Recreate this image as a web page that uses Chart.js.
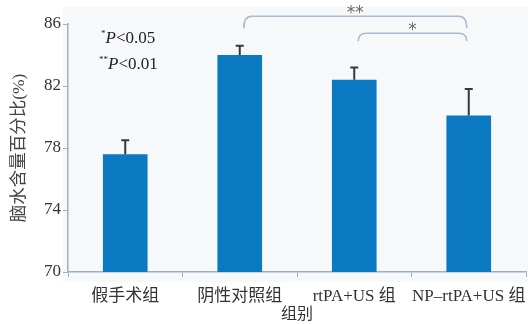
<!DOCTYPE html>
<html>
<head>
<meta charset="utf-8">
<script src="https://cdn.jsdelivr.net/npm/chart.js@4/dist/chart.umd.min.js"></script>
<style>
  html, body { margin: 0; padding: 0; background: #ffffff; }
  #wrap { width: 528px; height: 324px; position: relative; }
</style>
</head>
<body>
<div id="wrap"><canvas id="c" width="528" height="324"></canvas></div>
<script>
// Groups and brain water content (%), mean with upper SD
const groups = ['假手术组', '阴性对照组', 'rtPA+US 组', 'NP–rtPA+US 组'];
const waterContent = [77.6, 84.0, 82.4, 80.1];
const sdValues = [0.9, 0.6, 0.8, 1.7];
const yTicks = [70, 74, 78, 82, 86];

// significance brackets: [from group index, to group index, level value, label]
const brackets = [
  [1, 3, 86.5, '**'],
  [2, 3, 85.4, '*']
];

const SERIF = '"Liberation Serif", "Noto Sans CJK SC", serif';
const AXIS_COLOR = '#9fb0c2';

const panelPlugin = {
  id: 'panel',
  beforeDraw(chart) {
    const ctx = chart.ctx;
    ctx.save();
    ctx.fillStyle = '#f7f8fa';
    ctx.fillRect(63, 7, chart.width - 63, 275);
    ctx.restore();
  }
};

const errorBarPlugin = {
  id: 'errorBars',
  afterDatasetsDraw(chart) {
    const ctx = chart.ctx;
    const meta = chart.getDatasetMeta(0);
    const ys = chart.scales.y;
    ctx.save();
    ctx.strokeStyle = '#2f3a44';
    ctx.lineWidth = 2;
    meta.data.forEach((bar, i) => {
      const top = ys.getPixelForValue(waterContent[i] + sdValues[i]);
      ctx.beginPath();
      ctx.moveTo(bar.x, bar.y);
      ctx.lineTo(bar.x, top);
      ctx.moveTo(bar.x - 4, top);
      ctx.lineTo(bar.x + 4, top);
      ctx.stroke();
    });
    ctx.restore();
  }
};

const bracketPlugin = {
  id: 'brackets',
  afterDraw(chart) {
    const ctx = chart.ctx;
    const xs = chart.scales.x;
    const ys = chart.scales.y;
    ctx.save();
    brackets.forEach(([a, b, level, label]) => {
      const x1 = xs.getPixelForValue(a) + 4;
      const x2 = xs.getPixelForValue(b) - 2;
      const y = ys.getPixelForValue(level);
      const drop = level > 86 ? 12 : 8;
      const r = 8;
      ctx.strokeStyle = '#a9bbcf';
      ctx.lineWidth = 1.6;
      ctx.beginPath();
      ctx.moveTo(x1, y + drop);
      ctx.quadraticCurveTo(x1, y, x1 + r, y);
      ctx.lineTo(x2 - r, y);
      ctx.quadraticCurveTo(x2, y, x2, y + drop);
      ctx.stroke();
      ctx.fillStyle = '#6a6a6a';
      ctx.font = '17px "DejaVu Sans", sans-serif';
      ctx.textAlign = 'center';
      ctx.textBaseline = 'middle';
      ctx.fillText(label, (x1 + x2) / 2, y - 3);
    });

    // significance key
    const drawKey = (stars, value, x, baseline) => {
      ctx.textAlign = 'left';
      ctx.textBaseline = 'alphabetic';
      ctx.fillStyle = '#222222';
      ctx.font = '9px ' + SERIF;
      ctx.fillText(stars, x, baseline - 7);
      let cx = x + ctx.measureText(stars).width;
      ctx.font = 'italic 17px ' + SERIF;
      ctx.fillText('P', cx, baseline);
      cx += ctx.measureText('P').width;
      ctx.font = '17px ' + SERIF;
      ctx.fillText('<' + value, cx, baseline);
    };
    drawKey('*', '0.05', 101, 43);
    drawKey('**', '0.01', 99, 69);
    ctx.restore();
  }
};

new Chart(document.getElementById('c'), {
  type: 'bar',
  data: {
    labels: groups,
    datasets: [{
      data: waterContent,
      backgroundColor: '#0b78c2',
      borderWidth: 0,
      categoryPercentage: 1.0,
      barPercentage: 0.39
    }]
  },
  options: {
    responsive: false,
    animation: false,
    devicePixelRatio: 1,
    layout: { padding: { top: 24, right: 2, left: 0, bottom: 0 } },
    plugins: { legend: { display: false }, tooltip: { enabled: false } },
    scales: {
      x: {
        grid: { display: true, drawOnChartArea: false, drawTicks: true, tickLength: 5, color: AXIS_COLOR, offset: true },
        border: { color: AXIS_COLOR, width: 1.5 },
        ticks: { color: '#333333', font: { family: SERIF, size: 17 }, padding: 9, maxRotation: 0, autoSkip: false },
        title: { display: true, text: '组别', color: '#333333', font: { family: SERIF, size: 16 }, padding: { top: 0, bottom: 0 } },
        afterFit(scale) {
          scale.height = 52;
          scale.paddingLeft = 0;
          scale.paddingRight = 0;
        }
      },
      y: {
        min: 70,
        max: 86,
        afterBuildTicks(scale) { scale.ticks = yTicks.map(v => ({ value: v })); },
        grid: { display: true, drawOnChartArea: false, drawTicks: true, tickLength: 5, color: AXIS_COLOR },
        border: { color: AXIS_COLOR, width: 1.5 },
        ticks: { color: '#333333', font: { family: SERIF, size: 17 }, padding: 2 },
        title: { display: true, text: '脑水含量百分比(%)', color: '#444444', font: { family: SERIF, size: 17.5 }, padding: { top: 9, bottom: 0 } },
        afterFit(scale) { scale.width = 68; }
      }
    }
  },
  plugins: [panelPlugin, errorBarPlugin, bracketPlugin]
});
</script>
</body>
</html>
